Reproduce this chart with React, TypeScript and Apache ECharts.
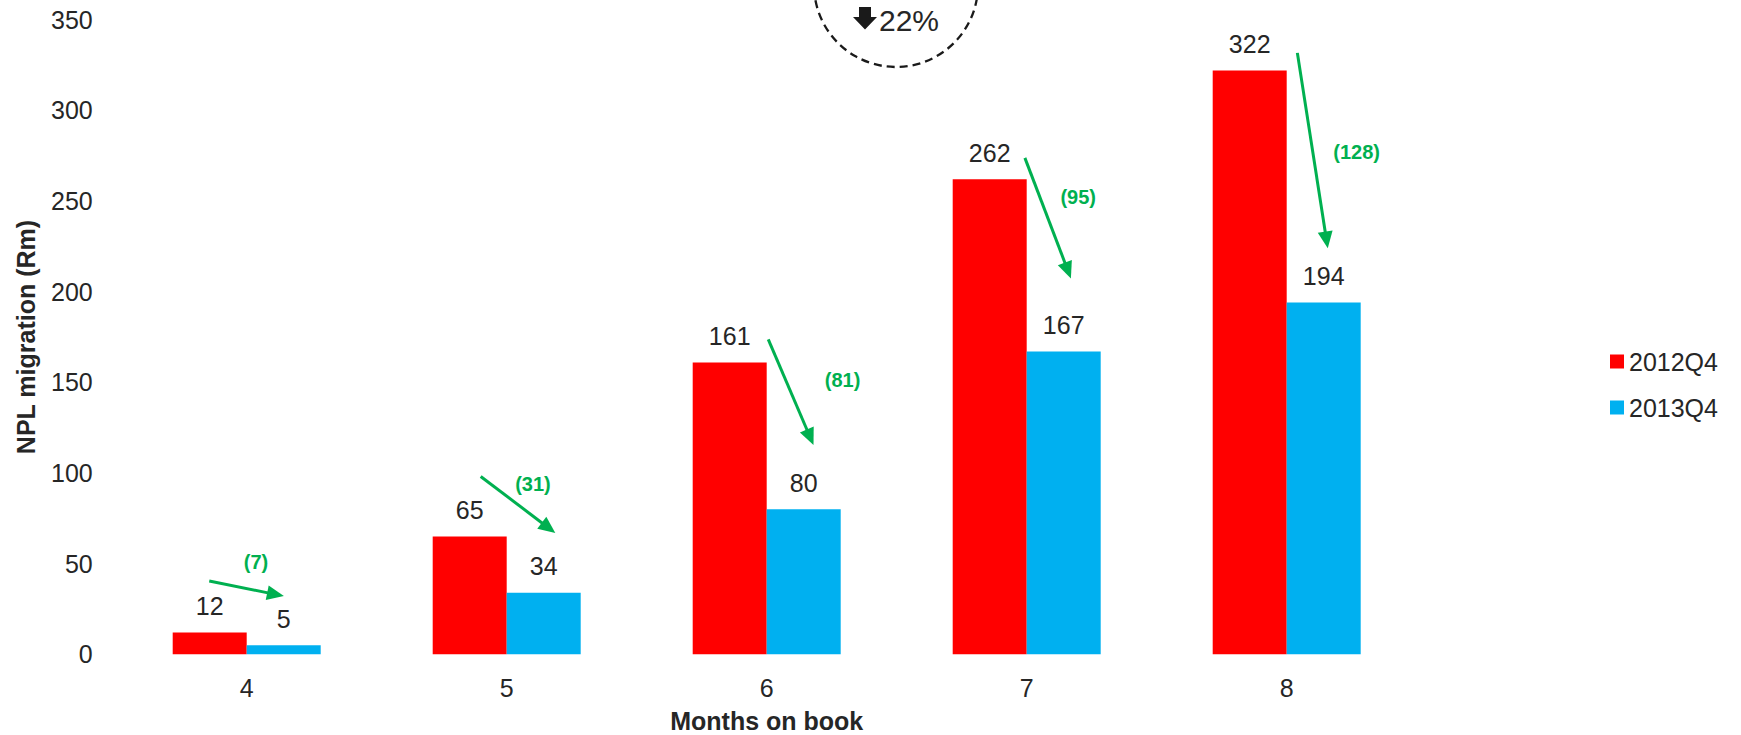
import React, { useEffect, useRef } from "react";
import * as echarts from "echarts";

// Months on book (category axis)
const categories = ["4", "5", "6", "7", "8"];
// NPL migration, Rm
const q4_2012 = [12, 65, 161, 262, 322];
const q4_2013 = [5, 34, 80, 167, 194];
const seriesNames = ["2012Q4", "2013Q4"];
const yMax = 350;
const yStep = 50;
const headline = "22%";

// Green change arrows, in axis units: [category position, Rm]
const arrowStart = [
  [-0.144, 40.4],
  [0.9, 98.1],
  [2.006, 173.7],
  [2.993, 273.8],
  [4.041, 331.7],
];
const arrowEnd = [
  [0.143, 32.1],
  [1.187, 66.9],
  [2.18, 115.4],
  [3.17, 207.3],
  [4.158, 223.9],
];
const changeLabelAt = [
  [0.036, 51.1],
  [1.101, 93.9],
  [2.292, 151.2],
  [3.198, 252.3],
  [4.269, 277.1],
];

const RED = "#FF0000";
const BLUE = "#00B0F0";
const GREEN = "#00B050";
const INK = "#262626";
const FONT = '"Liberation Sans", Arial, Helvetica, sans-serif';

export default function App() {
  const ref = useRef<HTMLDivElement>(null);

  useEffect(() => {
    document.body.style.margin = "0";
    if (!ref.current) return;
    const chart = echarts.init(ref.current, null, { renderer: "svg" });

    const changeText = q4_2012.map((v, i) => `(${v - q4_2013[i]})`);
    const arrowData = arrowStart.map((s, i) => [
      s[0],
      s[1],
      arrowEnd[i][0],
      arrowEnd[i][1],
      changeLabelAt[i][0],
      changeLabelAt[i][1],
    ]);

    const barLabel = {
      show: true,
      position: "top",
      distance: 14,
      color: INK,
      fontSize: 25,
      fontFamily: FONT,
    };

    chart.setOption({
      animation: false,
      backgroundColor: "#ffffff",
      textStyle: { fontFamily: FONT, color: INK },
      grid: {
        left: 116.7,
        right: 324.3,
        top: 19.7,
        bottom: 80.7,
        outerBoundsMode: "none",
        containLabel: false,
      },
      legend: {
        data: seriesNames,
        orient: "vertical",
        left: 1610,
        top: 349,
        itemWidth: 14,
        itemHeight: 14,
        itemGap: 21,
        padding: 0,
        icon: "rect",
        textStyle: { fontSize: 25, color: INK, fontFamily: FONT },
      },
      xAxis: [
        {
          type: "category",
          data: categories,
          axisLine: { show: false },
          axisTick: { show: false },
          axisLabel: { fontSize: 25, color: INK, margin: 21, fontFamily: FONT },
          name: "Months on book",
          nameLocation: "middle",
          nameGap: 57,
          nameTextStyle: {
            fontSize: 25,
            lineHeight: 20,
            fontWeight: "bold",
            color: INK,
            fontFamily: FONT,
          },
        },
        {
          type: "value",
          min: -0.5,
          max: categories.length - 0.5,
          show: false,
        },
      ],
      yAxis: {
        type: "value",
        min: 0,
        max: yMax,
        interval: yStep,
        axisLine: { show: false },
        axisTick: { show: false },
        splitLine: { show: false },
        axisLabel: { fontSize: 25, color: INK, margin: 24, fontFamily: FONT },
        name: "NPL migration (Rm)",
        nameLocation: "middle",
        nameGap: 78,
        nameTextStyle: { fontSize: 25, fontWeight: "bold", color: INK, fontFamily: FONT },
      },
      series: [
        {
          name: seriesNames[0],
          type: "bar",
          data: q4_2012,
          barWidth: 74,
          barGap: "0%",
          itemStyle: { color: RED },
          label: barLabel,
        },
        {
          name: seriesNames[1],
          type: "bar",
          data: q4_2013,
          barWidth: 74,
          barGap: "0%",
          itemStyle: { color: BLUE },
          label: barLabel,
        },
        {
          name: "change",
          type: "custom",
          xAxisIndex: 1,
          yAxisIndex: 0,
          silent: true,
          z: 10,
          data: arrowData,
          renderItem: (params: any, api: any) => {
            const i = params.dataIndex;
            const a = api.coord([api.value(0), api.value(1)]);
            const b = api.coord([api.value(2), api.value(3)]);
            const c = api.coord([api.value(4), api.value(5)]);
            const dx = b[0] - a[0];
            const dy = b[1] - a[1];
            const len = Math.hypot(dx, dy);
            const ux = dx / len;
            const uy = dy / len;
            const nx = -uy;
            const ny = ux;
            const headLen = 17;
            const headHalf = 7.5;
            const bx = b[0] - ux * headLen;
            const by = b[1] - uy * headLen;
            return {
              type: "group",
              children: [
                {
                  type: "line",
                  shape: { x1: a[0], y1: a[1], x2: bx + ux * 2, y2: by + uy * 2 },
                  style: { stroke: GREEN, lineWidth: 3 },
                },
                {
                  type: "polygon",
                  shape: {
                    points: [
                      [b[0], b[1]],
                      [bx + nx * headHalf, by + ny * headHalf],
                      [bx - nx * headHalf, by - ny * headHalf],
                    ],
                  },
                  style: { fill: GREEN },
                },
                {
                  type: "text",
                  x: c[0],
                  y: c[1],
                  style: {
                    text: changeText[i],
                    fill: GREEN,
                    fontSize: 20,
                    fontWeight: "bold",
                    fontFamily: FONT,
                    align: "center",
                    verticalAlign: "middle",
                  },
                },
              ],
            };
          },
        },
      ],
      graphic: [
        {
          type: "circle",
          shape: { cx: 896, cy: -15, r: 82 },
          style: { fill: "none", stroke: "#1a1a1a", lineWidth: 2.3, lineDash: [8, 5] },
          silent: true,
        },
        {
          type: "polygon",
          shape: {
            points: [
              [859, 7],
              [871, 7],
              [871, 17],
              [877, 17],
              [865, 29.5],
              [853, 17],
              [859, 17],
            ],
          },
          style: { fill: "#1a1a1a" },
          silent: true,
        },
        {
          type: "text",
          x: 879,
          y: 20,
          style: {
            text: headline,
            fill: INK,
            fontSize: 30,
            fontFamily: FONT,
            align: "left",
            verticalAlign: "middle",
          },
          silent: true,
        },
      ],
    });

    return () => chart.dispose();
  }, []);

  return <div ref={ref} style={{ width: 1741, height: 735 }} />;
}
